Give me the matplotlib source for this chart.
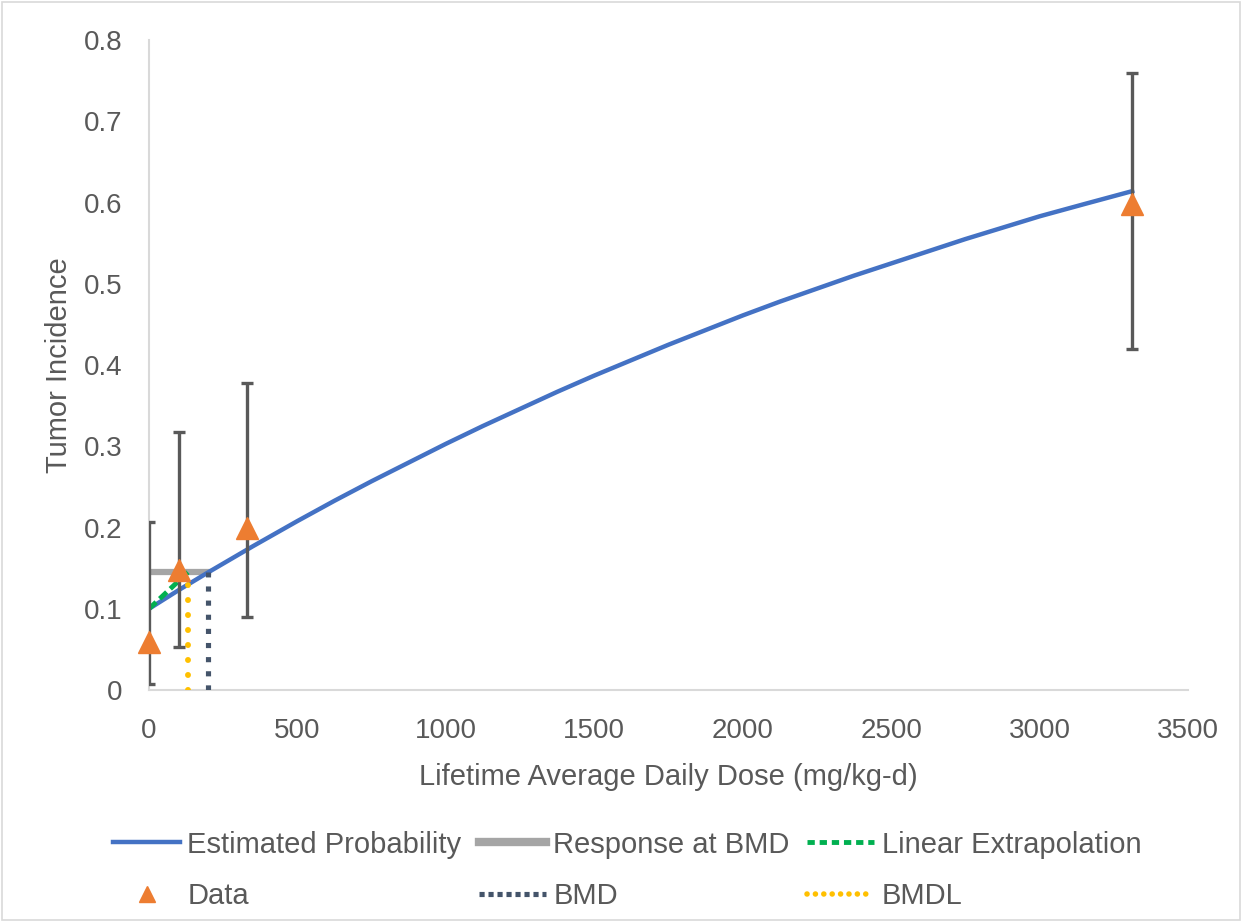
import numpy as np
import matplotlib.pyplot as plt
from matplotlib.lines import Line2D
from matplotlib.patches import Rectangle

plt.rcParams['font.family'] = ['Liberation Sans', 'DejaVu Sans']

# observed tumor incidence with confidence limits
dose = [0, 101, 330, 3312]
incidence = [0.059, 0.148, 0.200, 0.598]
ci_low = [0.008, 0.053, 0.090, 0.420]
ci_high = [0.207, 0.318, 0.378, 0.760]

# fitted model curve
curve_x = [0, 100, 200, 350, 500, 625, 750, 875, 1000, 1125, 1250, 1375, 1500, 1625, 1750,
           1875, 2000, 2125, 2250, 2375, 2500, 2625, 2750, 2875, 3000, 3150, 3312]
curve_y = [0.100, 0.123, 0.145, 0.177, 0.208, 0.233, 0.257, 0.280, 0.303, 0.325, 0.346,
           0.367, 0.387, 0.406, 0.425, 0.443, 0.461, 0.478, 0.494, 0.510, 0.525, 0.540,
           0.555, 0.569, 0.583, 0.598, 0.614]

bmd = 200
bmdl = 131
resp_bmd = 0.145
bg_resp = 0.100

blue = '#4472C4'
orange = '#ED7D31'
grey = '#A5A5A5'
green = '#00B050'
navy = '#44546A'
gold = '#FFC000'
txt = '#595959'

fig = plt.figure(figsize=(12.42, 9.22), dpi=100)
fig.patches.append(Rectangle((0.002, 0.002), 0.996, 0.996, transform=fig.transFigure,
                             fill=False, edgecolor='#D9D9D9', lw=1.2))
ax = fig.add_axes([0.12, 0.2516, 0.8365, 0.705])

ax.plot(curve_x, curve_y, color=blue, lw=3.2, zorder=3)
ax.plot([0, bmd], [resp_bmd, resp_bmd], color=grey, lw=4.5, zorder=2)
ax.plot([0, bmdl], [bg_resp, resp_bmd], color=green, lw=3.5, ls=(0, (2, 1)), zorder=4)
ax.plot([bmd, bmd], [0, resp_bmd], color=navy, lw=3.7, ls=(0, (1, 1.75)), zorder=4)
ax.plot([bmdl, bmdl], [0, resp_bmd], color=gold, lw=4.3, ls=(0, (0.01, 2.5)),
        dash_capstyle='round', zorder=4)

err = [np.array(incidence) - np.array(ci_low), np.array(ci_high) - np.array(incidence)]
ax.errorbar(dose, incidence, yerr=err, fmt='none', ecolor=txt, elinewidth=2.4,
            capsize=4.5, capthick=2.4, zorder=5)
ax.plot(dose, incidence, ls='none', marker='^', ms=16, color=orange, mec=orange,
        zorder=6, clip_on=False)

ax.set_xlim(0, 3500)
ax.set_ylim(0, 0.8)
ax.set_xticks(np.arange(0, 3501, 500))
ax.set_yticks(np.arange(0, 0.81, 0.1))
ax.set_yticklabels(['0'] + ['%.1f' % v for v in np.arange(0.1, 0.81, 0.1)])
ax.tick_params(length=0, labelsize=20, labelcolor=txt)
ax.tick_params(axis='y', pad=19)
ax.tick_params(axis='x', pad=20)
for s in ['top', 'right']:
    ax.spines[s].set_visible(False)
for s in ['left', 'bottom']:
    ax.spines[s].set_color('#D9D9D9')
    ax.spines[s].set_linewidth(1.5)

ax.set_xlabel('Lifetime Average Daily Dose (mg/kg-d)', fontsize=21, color=txt, labelpad=14)
ax.set_ylabel('Tumor Incidence', fontsize=21, color=txt, labelpad=8)

handles = [
    Line2D([], [], color=blue, lw=3.2),
    Line2D([], [], ls='none', marker='^', ms=12, color=orange),
    Line2D([], [], color=grey, lw=6),
    Line2D([], [], color=navy, lw=3.7, ls=(0, (1, 0.75))),
    Line2D([], [], color=green, lw=3.5, ls=(0, (1.5, 1))),
    Line2D([], [], color=gold, lw=4, ls=(0, (0.01, 1.5)), dash_capstyle='round'),
]
labels = ['Estimated Probability', 'Data', 'Response at BMD', 'BMD',
          'Linear Extrapolation', 'BMDL']
leg = fig.legend(handles, labels, ncol=3, loc='center', bbox_to_anchor=(0.505, 0.056),
                 frameon=False, fontsize=21, handlelength=2.3, handletextpad=0.25,
                 columnspacing=0.6, labelspacing=0.8)
for t in leg.get_texts():
    t.set_color(txt)

fig.savefig('out.png', dpi=100)
